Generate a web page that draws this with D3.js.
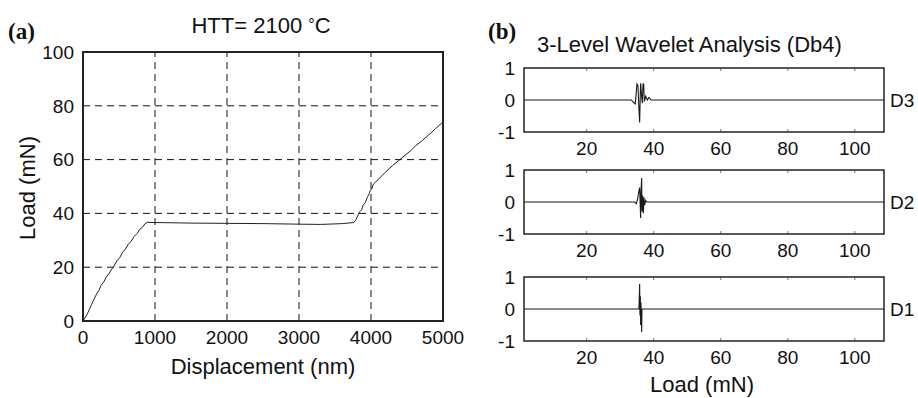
<!DOCTYPE html>
<html>
<head>
<meta charset="utf-8">
<script src="https://cdn.jsdelivr.net/npm/d3@7"></script>
<style>
  body { margin: 0; background: #fff; }
  svg { display: block; font-family: "Liberation Sans", Arial, sans-serif; }
</style>
</head>
<body>
<div id="chart"></div>
<script>
// (a) load-displacement curve, [displacement nm, load mN]
const loadCurve = [
  [0, 0], [30, 1.2], [60, 2.6], [90, 4.4], [120, 6.2], [150, 7.9], [190, 10.1],
  [220, 11.4], [250, 13.2], [290, 14.6], [320, 16.2], [360, 17.6], [400, 19.3],
  [430, 20.4], [470, 22.3], [510, 23.6], [550, 25.5], [590, 26.8], [630, 28.6],
  [670, 29.7], [710, 31.4], [750, 32.5], [790, 34.1], [830, 35.0], [860, 36.1],
  [890, 36.7], [1000, 36.6], [1500, 36.4], [2000, 36.3], [2500, 36.2], [3000, 36.0],
  [3300, 35.9], [3600, 36.2], [3760, 36.6], [3790, 37.6], [3820, 39.4], [3840, 40.6],
  [3870, 41.3], [3890, 43.0], [3920, 44.0], [3950, 46.0], [3975, 47.3], [3990, 48.6],
  [4010, 49.0], [4030, 50.8], [4100, 52.6], [4200, 55.3], [4300, 57.8], [4400, 60.0],
  [4500, 62.2], [4560, 63.5], [4620, 65.2], [4700, 66.8], [4780, 68.7], [4820, 69.6],
  [4900, 71.6], [5000, 74.0]
];
const dispTicks = [0, 1000, 2000, 3000, 4000, 5000];
const loadTicks = [0, 20, 40, 60, 80, 100];

// (b) wavelet detail coefficients, [load mN, coefficient]
const d3Detail = [
  [1.3, 0], [33.3, 0], [34.0, -0.08], [34.5, -0.12], [35.0, 0.5], [35.3, 0.45],
  [35.6, -0.3], [35.8, -0.7], [36.0, 0.2], [36.1, 0.52], [36.4, 0.1], [36.6, -0.1],
  [36.8, 0.5], [37.0, 0.5], [37.2, -0.05], [37.6, 0.12], [38.1, 0.0], [38.6, 0.08],
  [39.2, 0], [108.7, 0]
];
const d2Detail = [
  [1.3, 0], [34.3, 0], [34.8, -0.05], [35.2, 0.1], [35.5, 0.3], [35.8, 0.45],
  [36.0, -0.2], [36.1, -0.5], [36.2, 0.3], [36.4, 0.75], [36.5, -0.3], [36.7, 0.2],
  [36.9, -0.35], [37.1, 0.15], [37.3, -0.1], [37.6, 0.05], [37.9, 0], [108.7, 0]
];
const d1Detail = [
  [1.3, 0], [35.6, 0], [35.8, 0.78], [35.9, -0.2], [36.0, 0.4], [36.1, -0.5],
  [36.2, 0.2], [36.4, -0.72], [36.5, 0], [108.7, 0]
];
const levelNames = ['D3', 'D2', 'D1'];
const waveTicks = [20, 40, 60, 80, 100];
const coefTicks = [1, 0, -1];

const width = 918;
const height = 398;

const svg = d3.select('#chart').append('svg')
  .attr('width', width)
  .attr('height', height);

// ---------- panel (a) ----------
const xA = d3.scaleLinear().domain([0, 5000]).range([83, 443]);
const yA = d3.scaleLinear().domain([0, 100]).range([321, 52]);

const gA = svg.append('g');

// grid
gA.append('g').selectAll('line')
  .data(dispTicks.slice(1, -1))
  .join('line')
  .attr('x1', d => xA(d)).attr('x2', d => xA(d))
  .attr('y1', yA(0)).attr('y2', yA(100))
  .attr('stroke', '#111').attr('stroke-width', 1)
  .attr('stroke-dasharray', '7,5');
gA.append('g').selectAll('line')
  .data(loadTicks.slice(1, -1))
  .join('line')
  .attr('x1', xA(0)).attr('x2', xA(5000))
  .attr('y1', d => yA(d)).attr('y2', d => yA(d))
  .attr('stroke', '#111').attr('stroke-width', 1)
  .attr('stroke-dasharray', '7,5');

gA.append('path')
  .datum(loadCurve)
  .attr('fill', 'none')
  .attr('stroke', '#222')
  .attr('stroke-width', 1)
  .attr('d', d3.line().x(d => xA(d[0])).y(d => yA(d[1])));

gA.append('rect')
  .attr('x', xA(0)).attr('y', yA(100))
  .attr('width', xA(5000) - xA(0)).attr('height', yA(0) - yA(100))
  .attr('fill', 'none').attr('stroke', '#222').attr('stroke-width', 2);

gA.append('g').selectAll('text')
  .data(dispTicks)
  .join('text')
  .attr('x', d => xA(d)).attr('y', 344)
  .attr('text-anchor', 'middle')
  .attr('font-size', 19)
  .attr('fill', '#111')
  .text(d => d);
gA.append('g').selectAll('text')
  .data(loadTicks)
  .join('text')
  .attr('x', 74).attr('y', d => yA(d))
  .attr('dy', '0.36em')
  .attr('text-anchor', 'end')
  .attr('font-size', 19)
  .attr('fill', '#111')
  .text(d => d);

gA.append('text')
  .attr('x', 263).attr('y', 374)
  .attr('text-anchor', 'middle')
  .attr('font-size', 22)
  .attr('fill', '#111')
  .text('Displacement (nm)');

gA.append('text')
  .attr('transform', 'translate(35,188) rotate(-90)')
  .attr('text-anchor', 'middle')
  .attr('font-size', 22)
  .attr('fill', '#111')
  .text('Load (mN)');

const titleA = gA.append('text')
  .attr('x', 261).attr('y', 33)
  .attr('text-anchor', 'middle')
  .attr('font-size', 22)
  .attr('fill', '#111');
titleA.append('tspan').text('HTT= 2100 ');
titleA.append('tspan').attr('font-size', 16).attr('dy', -3).text('°');
titleA.append('tspan').attr('dy', 3).text('C');

svg.append('text')
  .attr('x', 8).attr('y', 39)
  .attr('font-family', '"Liberation Serif", "Times New Roman", serif')
  .attr('font-weight', 'bold')
  .attr('font-size', 23)
  .attr('fill', '#111')
  .text('(a)');

// ---------- panel (b) ----------
const xB = d3.scaleLinear().domain([1.3, 108.7]).range([524, 884]);
const panelTops = [68, 170, 277];
const panelH = 64;
const series = [d3Detail, d2Detail, d1Detail];

series.forEach((data, i) => {
  const top = panelTops[i];
  const yB = d3.scaleLinear().domain([-1, 1]).range([top + panelH, top]);
  const g = svg.append('g');

  // inward ticks top and bottom
  g.append('g').selectAll('line')
    .data(waveTicks)
    .join('line')
    .attr('x1', d => xB(d)).attr('x2', d => xB(d))
    .attr('y1', top).attr('y2', top + 3)
    .attr('stroke', '#777').attr('stroke-width', 1);
  g.append('g').selectAll('line')
    .data(waveTicks)
    .join('line')
    .attr('x1', d => xB(d)).attr('x2', d => xB(d))
    .attr('y1', top + panelH).attr('y2', top + panelH - 3)
    .attr('stroke', '#777').attr('stroke-width', 1);

  g.append('path')
    .datum(data)
    .attr('fill', 'none')
    .attr('stroke', '#1a1a1a')
    .attr('stroke-width', 1.1)
    .attr('d', d3.line().x(d => xB(d[0])).y(d => yB(d[1])));

  g.append('rect')
    .attr('x', xB.range()[0]).attr('y', top)
    .attr('width', xB.range()[1] - xB.range()[0]).attr('height', panelH)
    .attr('fill', 'none').attr('stroke', '#222').attr('stroke-width', 1.5);

  g.append('g').selectAll('text')
    .data(waveTicks)
    .join('text')
    .attr('x', d => xB(d)).attr('y', top + panelH + 23)
    .attr('text-anchor', 'middle')
    .attr('font-size', 19)
    .attr('fill', '#111')
    .text(d => d);

  g.append('g').selectAll('text')
    .data(coefTicks)
    .join('text')
    .attr('x', 515).attr('y', d => yB(d))
    .attr('dy', '0.36em')
    .attr('text-anchor', 'end')
    .attr('font-size', 19)
    .attr('fill', '#111')
    .text(d => d);

  g.append('text')
    .attr('x', 890).attr('y', yB(0))
    .attr('dy', '0.36em')
    .attr('font-size', 19)
    .attr('fill', '#111')
    .text(levelNames[i]);
});

svg.append('text')
  .attr('x', 537).attr('y', 52)
  .attr('font-size', 22)
  .attr('fill', '#111')
  .text('3-Level Wavelet Analysis (Db4)');

svg.append('text')
  .attr('x', 702).attr('y', 392)
  .attr('text-anchor', 'middle')
  .attr('font-size', 22)
  .attr('fill', '#111')
  .text('Load (mN)');

svg.append('text')
  .attr('x', 488).attr('y', 39)
  .attr('font-family', '"Liberation Serif", "Times New Roman", serif')
  .attr('font-weight', 'bold')
  .attr('font-size', 23)
  .attr('fill', '#111')
  .text('(b)');
</script>
</body>
</html>
